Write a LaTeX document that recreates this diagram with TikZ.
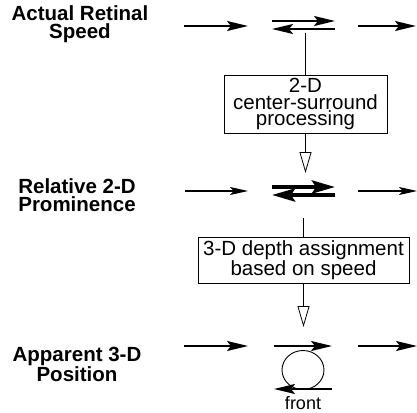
\documentclass[tikz,border=0pt]{standalone}
\usepackage{fontspec}
\setmainfont{Liberation Sans}
\usetikzlibrary{arrows.meta,shapes.geometric}
\begin{document}
\begin{tikzpicture}[x=1pt,y=-1pt,
  lbl/.style={font=\fontsize{20.5}{17.5}\selectfont\bfseries, align=center, inner sep=0pt},
  procbox/.style={draw, line width=0.9pt, font=\fontsize{20.5}{16.5}\selectfont, align=center, inner sep=0pt},
  flow/.style={line width=2pt, -{Stealth[length=21pt,width=10pt,inset=4pt]}},
  thinflow/.style={line width=1.1pt, -{Stealth[length=18pt,width=8pt,inset=4pt]}},
  thickflow/.style={line width=4pt, -{Stealth[length=23pt,width=13pt,inset=4pt]}},
  conn/.style={line width=0.7pt},
  openarrow/.style={line width=0.8pt, -{Triangle[open,length=21pt,width=12pt]}}]
\useasboundingbox (0,0) rectangle (417,412);

% labels
\node[lbl] (l1) at (80,24) {Actual Retinal\\Speed};
\node[lbl] (l2) at (77,195) {Relative 2-D\\Prominence};
\node[lbl] (l3) at (77,364) {Apparent 3-D\\Position};

% boxes
\node[procbox, minimum width=163pt, minimum height=58pt] (b1) at (305.5,104) {2-D\\center-surround\\processing};
\node[procbox, minimum width=211pt, minimum height=46pt] (b2) at (303.5,260) {3-D depth assignment\\based on speed};

% row 1
\coordinate (r1la) at (184,26); \coordinate (r1lb) at (248,26);
\coordinate (r1ra) at (358,26); \coordinate (r1rb) at (416,26);
\coordinate (r1ta) at (272,21); \coordinate (r1tb) at (335,21);
\coordinate (r1ba) at (335,29); \coordinate (r1bb) at (272,29);
\draw[flow] (r1la) -- (r1lb);
\draw[flow] (r1ra) -- (r1rb);
\draw[flow] (r1ta) -- (r1tb);
\draw[flow] (r1ba) -- (r1bb);
\coordinate (c1) at (305.5,33);
\draw[conn] (c1) -- (b1.north);
\coordinate (t1) at (305.5,173);
\draw[openarrow] (b1.south) -- (t1);

% row 2
\coordinate (r2la) at (185,191); \coordinate (r2lb) at (248,191);
\coordinate (r2ra) at (358,191); \coordinate (r2rb) at (417,191);
\coordinate (r2ta) at (272,187); \coordinate (r2tb) at (335,187);
\coordinate (r2ba) at (335,195); \coordinate (r2bb) at (272,195);
\draw[thinflow] (r2la) -- (r2lb);
\draw[thinflow] (r2ra) -- (r2rb);
\draw[thickflow] (r2ta) -- (r2tb);
\draw[thickflow] (r2ba) -- (r2bb);
\coordinate (c2) at (303.5,218);
\draw[conn] (c2) -- (b2.north);
\coordinate (t2) at (303.5,327);
\draw[openarrow] (b2.south) -- (t2);

% row 3
\coordinate (r3la) at (184,346); \coordinate (r3lb) at (248,346);
\coordinate (r3ra) at (358,346); \coordinate (r3rb) at (417,346);
\coordinate (r3ta) at (274,346); \coordinate (r3tb) at (332,346);
\coordinate (r3ba) at (332,389); \coordinate (r3bb) at (274,389);
\draw[flow] (r3la) -- (r3lb);
\draw[flow] (r3ra) -- (r3rb);
\node[draw, ellipse, line width=0.9pt, minimum width=42pt, minimum height=39pt, inner sep=0pt] (obj) at (303,370) {};
\draw[flow] (r3ta) -- (r3tb);
\draw[flow] (r3ba) -- (r3bb);
\node[font=\fontsize{18}{18}\selectfont, inner sep=0pt] (front) at (303,403) {front};
\end{tikzpicture}
\end{document}
